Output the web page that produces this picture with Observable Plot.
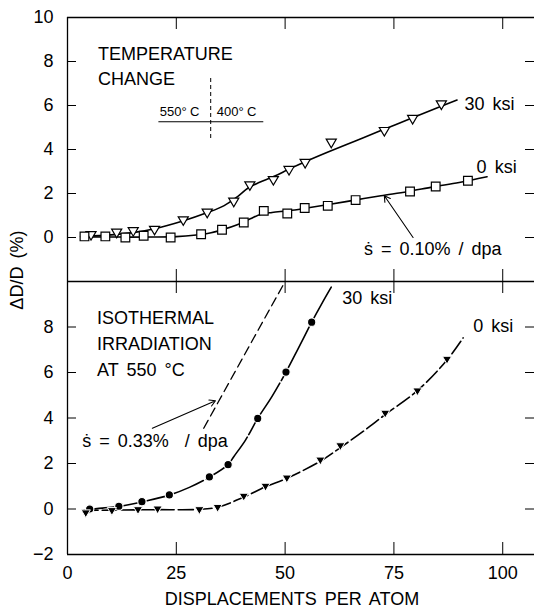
<!DOCTYPE html>
<html>
<head>
<meta charset="utf-8">
<script src="https://cdn.jsdelivr.net/npm/d3@7"></script>
<script src="https://cdn.jsdelivr.net/npm/@observablehq/plot@0.6"></script>
<style>
  html, body { margin: 0; padding: 0; background: white; overflow: hidden; }
  #chart { position: relative; width: 534px; height: 616px; }
  #chart svg { position: absolute; left: 0; }
</style>
</head>
<body>
<div id="chart"></div>
<script>
// ---------- data ----------
const xTicks = [0, 25, 50, 75, 100];
const topYTicks = [0, 2, 4, 6, 8, 10];
const bottomYTicks = [-2, 0, 2, 4, 6, 8];

// Top panel: temperature change (open symbols)
const temp30Points = [[5.4,0.12],[11.3,0.23],[15.1,0.30],[20.0,0.36],[26.6,0.79],[32.1,1.14],[38.2,1.64],[41.9,2.38],[47.3,2.62],[50.9,3.08],[54.6,3.40],[60.6,4.32],[72.8,4.85],[79.3,5.40],[85.9,6.06]];
const temp0Points = [[3.9,0.05],[8.7,0.05],[13.3,0.0],[17.5,0.08],[23.7,0.0],[30.7,0.15],[35.5,0.35],[40.5,0.68],[45.1,1.21],[50.5,1.09],[54.5,1.34],[59.8,1.44],[66.2,1.70],[78.7,2.09],[84.6,2.32],[92.0,2.58]];
const temp30Fit = [[3.8,0.05],[10,0.12],[15,0.22],[20,0.40],[26.5,0.75],[32,1.12],[36,1.45],[39,1.85],[41.5,2.25],[44,2.50],[47.5,2.78],[51,3.12],[55,3.48],[60,3.90],[66,4.38],[72,4.86],[79,5.42],[85,5.90],[89.5,6.25]];
const temp0Fit = [[3,0.03],[12,0.02],[20,0.02],[25,0.04],[29,0.10],[33,0.22],[36,0.38],[39,0.58],[42,0.85],[44.5,1.06],[47,1.14],[51,1.22],[55,1.34],[60,1.50],[66,1.70],[72,1.90],[78,2.08],[84,2.30],[90,2.50],[96.4,2.76]];

// Bottom panel: isothermal irradiation at 550 °C (filled symbols)
const iso30Points = [[5.1,0.0],[11.8,0.12],[17.1,0.32],[23.4,0.62],[32.6,1.41],[36.9,1.95],[43.7,3.98],[50.2,6.02],[56.1,8.21]];
const iso0Points = [[4.2,-0.17],[10.2,-0.07],[16.2,-0.03],[20.7,0.0],[30.3,-0.03],[34.5,0.07],[40.5,0.56],[45.5,1.0],[50.4,1.36],[58.1,2.15],[62.7,2.78],[73.0,4.21],[80.4,5.19],[87.2,6.58]];
const iso30Fit = [[4,-0.05],[8,0.04],[11.8,0.11],[17.1,0.31],[23.4,0.61],[28,0.95],[32.6,1.40],[36.9,1.95],[38.2,2.30],[40.9,3.03],[43.7,3.98],[47,4.95],[50.2,6.02],[53,7.05],[56.1,8.21],[58.5,9.05],[60.6,9.75]];
const iso0Fit = [[3.6,-0.06],[10,-0.05],[20,-0.03],[30,-0.02],[34.5,0.08],[40.5,0.52],[45.5,0.98],[50.4,1.35],[58.1,2.10],[62.7,2.70],[68,3.42],[73,4.15],[80.4,5.20],[87.2,6.55],[90.9,7.52]];
const rate033Line = [[31.3,3.55],[50.0,10.0]];

// ---------- helpers ----------
const FONT = "'Liberation Sans', Arial, Helvetica, sans-serif";
const xDomain = [0, 107.3];
const W = 534, ML = 67;
const PW = W - ML;
const triDown = {
  draw(ctx, size) {
    const r = Math.sqrt(size / Math.PI);
    ctx.moveTo(-1.15 * r, -0.75 * r);
    ctx.lineTo(1.15 * r, -0.75 * r);
    ctx.lineTo(0, 1.2 * r);
    ctx.closePath();
  }
};
const X = d => d[0], Y = d => d[1];
const styleBase = {fontFamily: FONT, fontSize: "18px", color: "black", background: "transparent", overflow: "visible", wordSpacing: "3px"};

// ---------- top panel ----------
const TOPH = 281, TOPMT = 17;
const topPH = TOPH - TOPMT;
const topPlot = Plot.plot({
  width: W, height: TOPH,
  marginLeft: ML, marginRight: 0, marginTop: TOPMT, marginBottom: 0,
  x: {domain: xDomain, axis: null},
  y: {domain: [-2, 10]},
  style: styleBase,
  marks: [
    Plot.ruleX([0], {strokeWidth: 1.3}),
    Plot.ruleY([10], {strokeWidth: 1.3}),
    Plot.tickX(xTicks.slice(1), {x: d => d, insetBottom: topPH - 12}),
    Plot.tickX(xTicks.slice(1), {x: d => d, insetTop: topPH - 12}),
    Plot.tickY(topYTicks, {y: d => d, insetRight: PW - 9}),
    Plot.tickY(topYTicks.slice(0, 5), {y: d => d, insetLeft: PW - 9}),
    Plot.axisY({ticks: topYTicks, tickSize: 0, tickPadding: 14, label: null, fontSize: 18}),
    // annotation: temperature change marker
    Plot.ruleY([5.26], {x1: 21.0, x2: 45.1, strokeWidth: 1.1}),
    Plot.ruleX([32.9], {y1: 4.5, y2: 7.3, strokeDasharray: "4,3", strokeWidth: 1}),
    Plot.text(["550°\u2005C"], {x: 21.2, y: 5.72, textAnchor: "start", fontSize: 13}),
    Plot.text(["400°\u2005C"], {x: 34.3, y: 5.72, textAnchor: "start", fontSize: 13}),
    Plot.text(["TEMPERATURE"], {x: 7, y: 8.34, textAnchor: "start"}),
    Plot.text(["CHANGE"], {x: 7, y: 7.18, textAnchor: "start"}),
    // fits
    Plot.line(temp30Fit, {x: X, y: Y, curve: "catmull-rom", strokeWidth: 1.6}),
    Plot.line(temp0Fit, {x: X, y: Y, curve: "catmull-rom", strokeWidth: 1.6}),
    // points
    Plot.dot(temp30Points, {x: X, y: Y, symbol: triDown, r: 4.4, fill: "white", stroke: "black", strokeWidth: 1.2}),
    Plot.dot(temp0Points, {x: X, y: Y, symbol: "square", r: 4.9, fill: "white", stroke: "black", strokeWidth: 1.2}),
    // labels
    Plot.text(["30 ksi"], {x: 91.2, y: 6.06, textAnchor: "start"}),
    Plot.text(["0 ksi"], {x: 94.0, y: 3.18, textAnchor: "start"}),
    Plot.arrow([[79.4, 0.0, 72.8, 1.9]], {x1: d => d[0], y1: d => d[1], x2: d => d[2], y2: d => d[3], headLength: 9, strokeWidth: 1.1}),
    Plot.text(["ṡ = 0.10% / dpa"], {x: 68.1, y: -0.53, textAnchor: "start"})
  ]
});

// ---------- bottom panel ----------
const BOTH = 335, BOTMB = 62;
const botPH = BOTH - BOTMB;
const bottomPlot = Plot.plot({
  width: W, height: BOTH,
  marginLeft: ML, marginRight: 0, marginTop: 0, marginBottom: BOTMB,
  x: {domain: xDomain},
  y: {domain: [-2, 10]},
  style: styleBase,
  marks: [
    Plot.ruleX([0], {strokeWidth: 1.3}),
    Plot.ruleY([10], {strokeWidth: 1.3}),
    Plot.ruleY([-2], {strokeWidth: 1.3}),
    Plot.tickX(xTicks.slice(1), {x: d => d, insetBottom: botPH - 12}),
    Plot.tickX(xTicks.slice(1), {x: d => d, insetTop: botPH - 12}),
    Plot.tickY(bottomYTicks, {y: d => d, insetRight: PW - 9}),
    Plot.tickY(bottomYTicks.slice(1), {y: d => d, insetLeft: PW - 9}),
    Plot.axisY({ticks: bottomYTicks, tickSize: 0, tickPadding: 14, label: null, fontSize: 18}),
    Plot.axisX({ticks: xTicks, tickSize: 0, tickPadding: 12, label: null, fontSize: 18}),
    Plot.text(["DISPLACEMENTS PER ATOM"], {frameAnchor: "bottom", dx: -9, dy: 50, fontSize: 18}),
    // y-axis title, placed outside the frame (left of the axis, straddling both panels)
    Plot.text(["ΔD/D (%)"], {x: -11.5, y: 10.5, rotate: -90, fontSize: 18}),
    // annotation
    Plot.text(["ISOTHERMAL"], {x: 6.8, y: 8.4, textAnchor: "start"}),
    Plot.text(["IRRADIATION"], {x: 6.8, y: 7.23, textAnchor: "start"}),
    Plot.text(["AT 550 °C"], {x: 6.8, y: 6.1, textAnchor: "start"}),
    Plot.line(rate033Line, {x: X, y: Y, strokeDasharray: "9,5", strokeWidth: 1.3}),
    Plot.arrow([[19.5, 3.55, 34.0, 4.76]], {x1: d => d[0], y1: d => d[1], x2: d => d[2], y2: d => d[3], headLength: 9, strokeWidth: 1.1}),
    Plot.text(["ṡ = 0.33%  / dpa"], {x: 3.4, y: 3.0, textAnchor: "start"}),
    // fits
    Plot.line(iso30Fit, {x: X, y: Y, curve: "catmull-rom", strokeWidth: 1.6, strokeDasharray: "60,3"}),
    Plot.line(iso0Fit, {x: X, y: Y, curve: "catmull-rom", strokeWidth: 1.6, strokeDasharray: "15,4"}),
    // points
    Plot.dot(iso30Points, {x: X, y: Y, r: 4.2, fill: "black", stroke: "white", strokeWidth: 1.2}),
    Plot.dot(iso0Points, {x: X, y: Y, symbol: triDown, r: 4.0, fill: "black", stroke: "white", strokeWidth: 1.0}),
    // labels
    Plot.text(["30 ksi"], {x: 63.1, y: 9.28, textAnchor: "start"}),
    Plot.text(["0 ksi"], {x: 93.2, y: 8.03, textAnchor: "start"})
  ]
});

topPlot.style.top = "0px";
bottomPlot.style.top = TOPH + "px";
const chart = document.getElementById("chart");
chart.appendChild(topPlot);
chart.appendChild(bottomPlot);
</script>
</body>
</html>
